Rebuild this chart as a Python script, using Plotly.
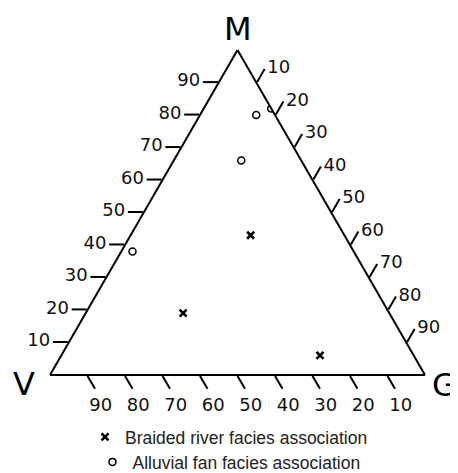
import plotly.graph_objects as go

# Data (percent): M (top), V (left), G (right)
braided_M = [43, 19, 6]
braided_V = [25, 55, 25]
braided_G = [32, 26, 69]

alluvial_M = [80, 82, 66, 38]
alluvial_V = [5, 0, 16, 59]
alluvial_G = [15, 18, 18, 3]

tick_vals = [10, 20, 30, 40, 50, 60, 70, 80, 90]
tick_text = [str(v) for v in tick_vals]

# page body has an 8px margin; size the figure so it fits the window
OFF = 8
W, H = 458 - OFF, 473 - OFF


def px(x):
    return (x - OFF) / W


def py(y):
    return 1 - (y - OFF) / H


fig = go.Figure()
fig.add_trace(go.Scatterternary(
    a=braided_M, b=braided_V, c=braided_G, mode="markers",
    name="Braided river facies association",
    marker=dict(symbol="x-thin-open", size=7, color="black", line=dict(width=2.6, color="black")),
    legend="legend",
))
fig.add_trace(go.Scatterternary(
    a=alluvial_M, b=alluvial_V, c=alluvial_G, mode="markers",
    name="Alluvial fan facies association",
    marker=dict(symbol="circle-open", size=7, color="black", line=dict(width=1.5, color="black")),
    legend="legend2",
))

axis_common = dict(
    showgrid=False, linecolor="black", linewidth=2,
    ticks="outside", ticklen=15, tickwidth=1.5, tickcolor="black",
    tickvals=tick_vals, ticktext=tick_text,
    tickfont=dict(size=18, color="#111", family="DejaVu Sans"),
    title=dict(text=""), min=0,
)
baxis = dict(axis_common, ticktext=["\u00a0\u00a0" + t for t in tick_text])

legend_common = dict(
    orientation="v", x=0.5, xanchor="center", yanchor="middle",
    font=dict(family="Liberation Sans", size=17.5, color="#222"),
    bgcolor="rgba(0,0,0,0)", tracegroupgap=0,
)

title_font = dict(size=32, family="DejaVu Sans", color="black")

fig.update_layout(
    width=W, height=H,
    margin=dict(l=0, r=0, t=0, b=0, autoexpand=False),
    paper_bgcolor="white",
    font=dict(family="DejaVu Sans", color="black"),
    ternary=dict(
        sum=100,
        bgcolor="white",
        domain=dict(x=[px(50), px(425)], y=[py(375), py(50)]),
        aaxis=axis_common,
        baxis=baxis,
        caxis=axis_common,
    ),
    showlegend=True,
    legend=dict(legend_common, x=px(229), y=py(437)),
    legend2=dict(legend_common, x=px(229), y=py(462)),
    annotations=[
        dict(text="M", x=px(237.7), y=py(29), xref="paper", yref="paper",
             xanchor="center", yanchor="middle", showarrow=False, font=title_font),
        dict(text="V", x=px(23.5), y=py(384), xref="paper", yref="paper",
             xanchor="center", yanchor="middle", showarrow=False, font=title_font),
        dict(text="G", x=px(444), y=py(385), xref="paper", yref="paper",
             xanchor="center", yanchor="middle", showarrow=False, font=title_font),
    ],
)

fig.write_html("out.html")
